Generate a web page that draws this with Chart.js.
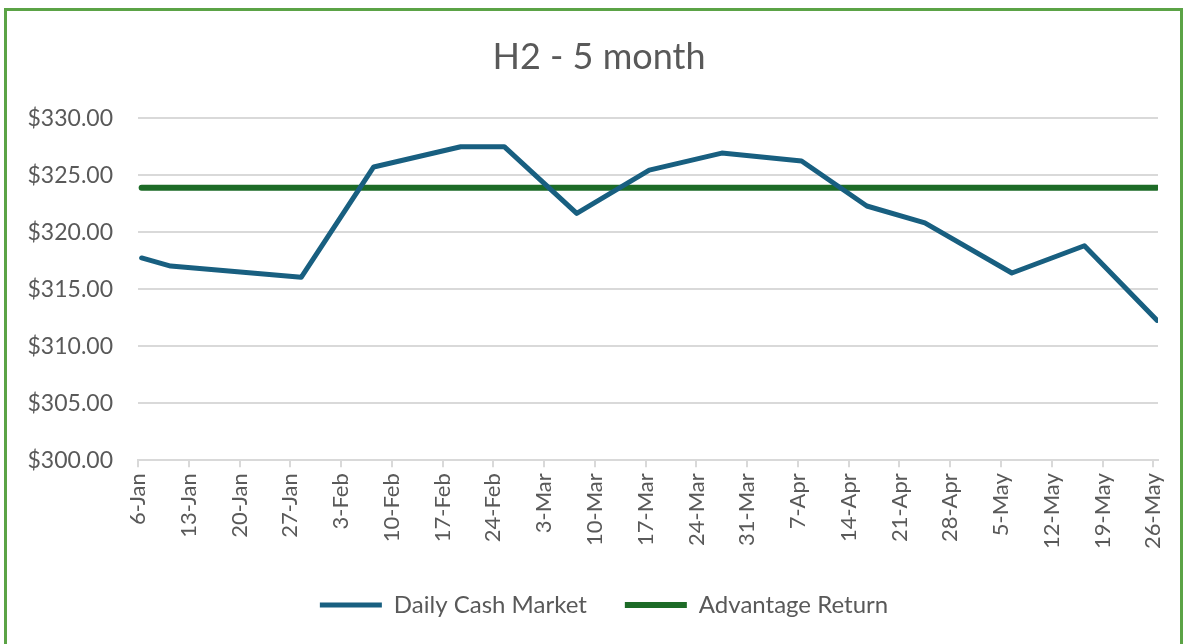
<!DOCTYPE html>
<html>
<head>
<meta charset="utf-8">
<script src="https://cdn.jsdelivr.net/npm/chart.js@4/dist/chart.umd.min.js"></script>
<style>
  html, body { margin: 0; padding: 0; background: #fff; }
  #wrap { position: relative; width: 1189px; height: 644px; overflow: hidden; }
  #frame { position: absolute; left: 4px; top: 8px; width: 1179px; height: 700px;
           border: 3px solid #5ba346; box-sizing: border-box; pointer-events: none; }
  #graf { position: absolute; left: 0; top: 0; }
</style>
</head>
<body>
<div id="wrap">
  <canvas id="graf" width="1189" height="644"></canvas>
  <div id="frame"></div>
</div>
<script>
// axelns etiketter, en per vecka
const tickLabels = ['6-Jan', '13-Jan', '20-Jan', '27-Jan', '3-Feb', '10-Feb', '17-Feb', '24-Feb',
  '3-Mar', '10-Mar', '17-Mar', '24-Mar', '31-Mar', '7-Apr', '14-Apr', '21-Apr', '28-Apr',
  '5-May', '12-May', '19-May', '26-May'];

// Daily Cash Market
const cashDates = ['6-Jan', '10-Jan', '28-Jan', '7-Feb', '19-Feb', '25-Feb', '7-Mar', '17-Mar',
  '27-Mar', '7-Apr', '16-Apr', '24-Apr', '6-May', '16-May', '26-May'];
const cashValues = [317.74, 317.03, 316.04, 325.72, 327.50, 327.50, 321.65, 325.44,
  326.94, 326.24, 322.30, 320.82, 316.42, 318.81, 312.27];

// Advantage Return
const advDates = ['6-Jan', '26-May'];
const advValues = [323.9, 323.9];

// dag räknat från 6-Jan (icke skottår)
const monthStart = { Jan: -6, Feb: 25, Mar: 53, Apr: 84, May: 114 };
function dayOf(label) {
  const [d, m] = label.split('-');
  return monthStart[m] + Number(d);
}
// Excel ritar punkten mitt på dagen
function toPoints(dates, values) {
  return dates.map((d, i) => ({ x: dayOf(d) + 0.5, y: values[i] }));
}

const textColor = '#595959';
const gridColor = '#d9d9d9';
const font = 'Lato, "Open Sans", sans-serif';

// flytta titel och legend lite åt höger, som i Excel
const shiftBlocks = {
  id: 'shiftBlocks',
  afterLayout(chart) {
    chart.titleBlock.left += 20;
    chart.titleBlock.right += 20;
    chart.legend.left += 25;
    chart.legend.right += 25;
  }
};

new Chart(document.getElementById('graf'), {
  type: 'line',
  data: {
    datasets: [{
      label: 'Daily Cash Market',
      data: toPoints(cashDates, cashValues),
      borderColor: '#185f80',
      backgroundColor: '#185f80',
      borderWidth: 5,
      borderCapStyle: 'round',
      borderJoinStyle: 'round',
      pointRadius: 0,
      pointStyle: 'line',
      tension: 0
    }, {
      label: 'Advantage Return',
      data: toPoints(advDates, advValues),
      borderColor: '#1d6b27',
      backgroundColor: '#1d6b27',
      borderWidth: 6,
      borderCapStyle: 'round',
      pointRadius: 0,
      pointStyle: 'line',
      tension: 0
    }]
  },
  plugins: [shiftBlocks],
  options: {
    responsive: false,
    animation: false,
    layout: { padding: { left: 0, right: 31, top: 0, bottom: 17 } },
    plugins: {
      title: {
        display: true,
        text: 'H2 - 5 month',
        color: textColor,
        font: { family: font, size: 36, weight: 'normal' },
        padding: { top: 36, bottom: 39 }
      },
      legend: {
        position: 'bottom',
        labels: {
          color: textColor,
          font: { family: font, size: 24 },
          usePointStyle: true,
          pointStyleWidth: 62,
          boxHeight: 6,
          padding: 38
        }
      },
      tooltip: { enabled: false }
    },
    scales: {
      x: {
        type: 'linear',
        min: 0,
        max: 140.65,
        afterBuildTicks: s => { s.ticks = tickLabels.map((_, i) => ({ value: i * 7 })); },
        ticks: {
          autoSkip: false,
          minRotation: 90,
          maxRotation: 90,
          padding: 6,
          color: textColor,
          font: { family: font, size: 22 },
          callback: v => tickLabels[Math.round(v / 7)]
        },
        grid: { drawOnChartArea: false, drawTicks: true, tickLength: 7, color: gridColor, lineWidth: 2 },
        border: { color: gridColor, width: 2 }
      },
      y: {
        min: 300,
        max: 330,
        afterFit: s => { s.width = 138; },
        ticks: {
          stepSize: 5,
          padding: 25,
          color: textColor,
          font: { family: font, size: 23 },
          callback: v => '$' + v.toFixed(2)
        },
        grid: { color: gridColor, lineWidth: 2, drawTicks: false },
        border: { display: false }
      }
    }
  }
});
</script>
</body>
</html>
